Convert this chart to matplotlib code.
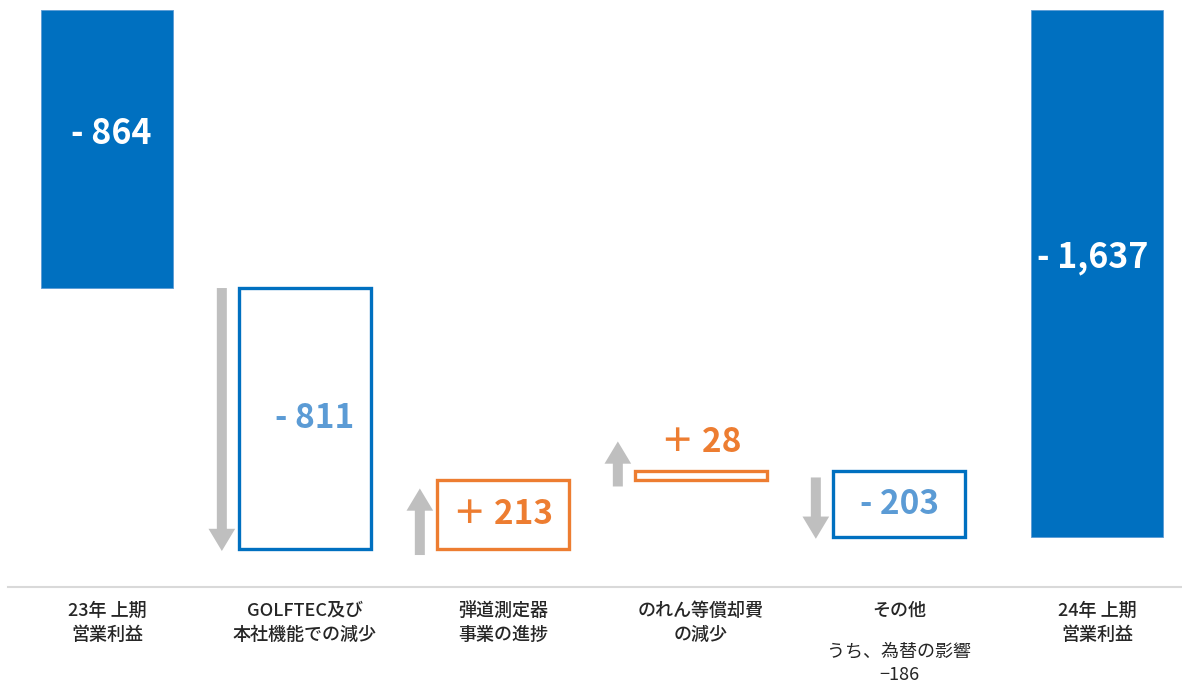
import matplotlib
matplotlib.use("Agg")
import matplotlib.pyplot as plt
from matplotlib.patches import Rectangle, FancyArrowPatch
from matplotlib.lines import Line2D
import matplotlib.transforms as mtransforms

plt.rcParams['font.family'] = ['Noto Sans CJK JP', 'DejaVu Sans']

# ---- data ----
categories = ["23年 上期\n営業利益", "GOLFTEC及び\n本社機能での減少", "弾道測定器\n事業の進捗",
              "のれん等償却費\nの減少", "その他", "24年 上期\n営業利益"]
changes = [-864, -811, 213, 28, -203, -1637]
kinds = ["total", "delta", "delta", "delta", "delta", "total"]
value_labels = ["- 864", "- 811", "＋ 213", "＋ 28", "- 203", "- 1,637"]
note_lines = ["うち、為替の影響", "−186"]

DARK = "#0070C0"
LIGHT_TXT = "#5B9BD5"
ORANGE = "#ED7D31"
GRAY = "#BFBFBF"

W, H = 1182, 682
fig = plt.figure(figsize=(W / 100, H / 100), dpi=100)
ax = fig.add_axes([0, 0, 1, 1])
ax.axis("off")

pxu = 0.3218  # pixels per unit
spacing = 198.0
x0 = 107.0
ax.set_xlim(-x0 / spacing, (W - x0) / spacing)
ax.set_ylim(-(H - 10) / pxu, 10 / pxu)

bw = 0.67
running = 0.0
for i, (c, k, lab) in enumerate(zip(changes, kinds, value_labels)):
    if k == "total":
        lo, hi = min(0, c), max(0, c)
        ax.add_patch(Rectangle((i - bw / 2, lo), bw, hi - lo, facecolor=DARK,
                               edgecolor="#5B9BD5", lw=0.6, zorder=2))
        ax.text(i + (0.02 if i == 0 else -0.02), (lo + hi) / 2 + 16 / pxu, lab,
                ha="center", va="center",
                color="white", fontsize=24.5, fontweight="bold", zorder=3)
        running = c
    else:
        start = running
        end = running + c
        lo, hi = min(start, end), max(start, end)
        col = ORANGE if c > 0 else DARK
        tcol = ORANGE if c > 0 else LIGHT_TXT
        ax.add_patch(Rectangle((i - bw / 2, lo), bw, hi - lo, facecolor="none",
                               edgecolor=col, lw=2.4, zorder=2))
        # arrow
        ax_x = i - 0.42
        if c > 0:
            tail = start - 6 / pxu
            tip = max(end - 8 / pxu, tail + 45 / pxu)
        else:
            tail = start - 6 / pxu if abs(c) < 400 else start
            tip = end - 2 / pxu
        arr = FancyArrowPatch((ax_x, tail), (ax_x, tip),
                              arrowstyle="simple,head_length=1.0,head_width=1.2,tail_width=0.45",
                              mutation_scale=16, color=GRAY, lw=0, zorder=1,
                              shrinkA=0, shrinkB=0)
        ax.add_patch(arr)
        if abs(c) < 60:
            ty = hi + 29 / pxu
        else:
            ty = (lo + hi) / 2
        ax.text(i + (0.05 if i == 1 else 0), ty, lab, ha="center", va="center",
                color=tcol, fontsize=24, fontweight="bold", zorder=3)
        running = end

# baseline
fig.add_artist(Line2D([8 / W, 1.0], [1 - 587 / H, 1 - 587 / H], color="#D9D9D9", lw=1.5))

# category labels
trans = mtransforms.blended_transform_factory(ax.transData, fig.transFigure)
for i, cat in enumerate(categories):
    ax.text(i, 1 - 602 / H, cat, transform=trans, ha="center", va="top",
            fontsize=13, color="#262626", fontweight="medium", linespacing=1.4)
ax.text(4, 1 - 651 / H, note_lines[0], transform=trans, ha="center", va="center",
        fontsize=13, color="#262626")
ax.text(4, 1 - 675 / H, note_lines[1], transform=trans, ha="center", va="center",
        fontsize=13, color="#262626")

fig.savefig("out.png", dpi=100)
